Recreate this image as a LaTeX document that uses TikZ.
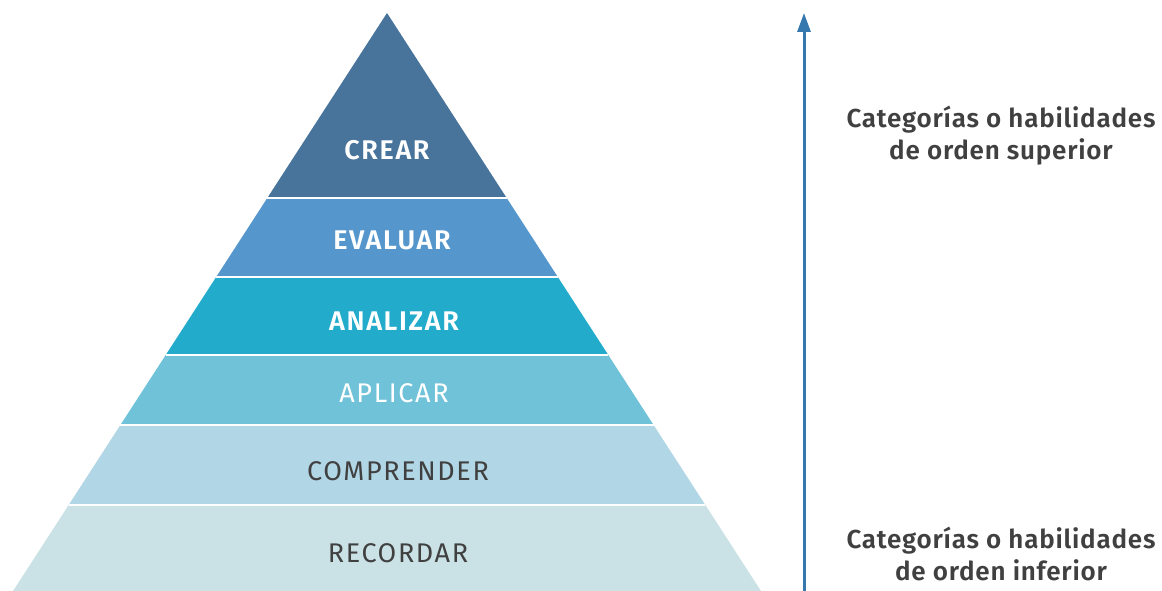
\documentclass[tikz,border=0pt]{standalone}
\usepackage{fontspec}
\setmainfont{Fira Sans}[BoldFont={Fira Sans SemiBold}]
\usetikzlibrary{calc, arrows.meta}

\definecolor{crearcol}{HTML}{48749C}
\definecolor{evaluarcol}{HTML}{5597CC}
\definecolor{analizarcol}{HTML}{23ABCC}
\definecolor{aplicarcol}{HTML}{70C2D9}
\definecolor{comprendercol}{HTML}{B1D6E5}
\definecolor{recordarcol}{HTML}{CAE2E6}
\definecolor{textgray}{HTML}{404040}
\definecolor{arrowcol}{HTML}{3478AF}

\newcommand{\levelfont}{\fontsize{27}{30}\selectfont\addfontfeatures{LetterSpace=6}}
\newcommand{\sidefont}{\fontsize{26}{30}\selectfont\bfseries\addfontfeatures{LetterSpace=3}}

\begin{document}
\begin{tikzpicture}[x=1pt, y=-1pt,
    levelbold/.style={text=white, font=\levelfont\bfseries},
    levellight/.style={text=white, font=\levelfont},
    leveldark/.style={text=textgray, font=\levelfont},
    sidetext/.style={anchor=base, text=textgray, font=\sidefont},
    separator/.style={white, line width=1.5pt}]
  \useasboundingbox (0,0) rectangle (1162,591);

  % pyramid corners
  \coordinate (apex) at (387,13);
  \coordinate (baseL) at (13,591);
  \coordinate (baseR) at (761,591);

  % bands, top to bottom
  \foreach \ta/\tb/\col in {0/0.3201/crearcol, 0.3201/0.4567/evaluarcol,
      0.4567/0.5917/analizarcol, 0.5917/0.7128/aplicarcol,
      0.7128/0.8512/comprendercol, 0.8512/1/recordarcol}
    \fill[\col] ($(apex)!\ta!(baseL)$) -- ($(apex)!\tb!(baseL)$)
      -- ($(apex)!\tb!(baseR)$) -- ($(apex)!\ta!(baseR)$) -- cycle;

  \foreach \t in {0.3201, 0.4567, 0.5917, 0.7128, 0.8512}
    \draw[separator] ($(apex)!\t!(baseL)$) -- ($(apex)!\t!(baseR)$);

  % level labels
  \node[levelbold] (crear) at (387,150) {CREAR};
  \node[levelbold] (evaluar) at (392,240) {EVALUAR};
  \node[levelbold] (analizar) at (394,321) {ANALIZAR};
  \node[levellight] (aplicar) at (394,393) {APLICAR};
  \node[leveldark] (comprender) at (398,471) {COMPRENDER};
  \node[leveldark] (recordar) at (398,553) {RECORDAR};

  % arrow
  \coordinate (arrowbottom) at (804,591);
  \coordinate (arrowtop) at (804,13);
  \draw[arrowcol, line width=3pt, -{Triangle[length=19pt, width=13pt]}] (arrowbottom) -- (arrowtop);

  % side texts
  \node[sidetext] (superior1) at (1001,128) {Categorías o habilidades};
  \node[sidetext] (superior2) at (1001,160) {de orden superior};
  \node[sidetext] (inferior1) at (1001,548) {Categorías o habilidades};
  \node[sidetext] (inferior2) at (1001,580) {de orden inferior};
\end{tikzpicture}
\end{document}
